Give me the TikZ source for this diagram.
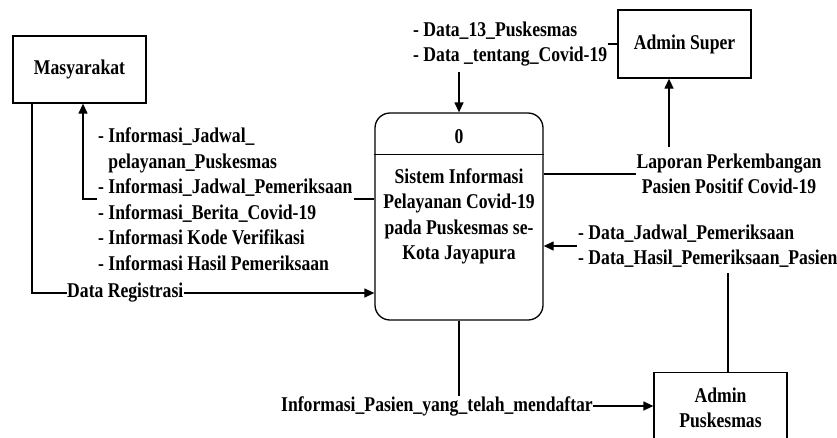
\documentclass[tikz,border=0pt]{standalone}
\usepackage{fontspec}
\setmainfont{Liberation Serif}[FakeStretch=0.84]
\usepackage{tikz}
\usetikzlibrary{arrows.meta}

\begin{document}
\begin{tikzpicture}[x=1pt,y=-1pt,
  every node/.style={font=\fontsize{21}{25.5}\selectfont\bfseries},
  entity/.style={draw,line width=1.3pt,minimum width=133pt,minimum height=67pt,inner sep=0pt,align=center},
  flow/.style={line width=1.3pt},
  arr/.style={line width=1.3pt,-{Triangle[length=10pt,width=9pt]}},
  lbl/.style={align=left,inner xsep=1pt,inner ysep=0pt}]
\clip (0,0) rectangle (837,437);
% external entities
\node [entity] (masy) at (79.5,69.5) {Masyarakat};
\node [entity,minimum height=68pt] (super) at (684.5,44) {Admin Super};
\node [entity,minimum height=70pt,anchor=north] (puskes) at (720.5,372) {Admin\\Puskesmas};
% process 0
\node [draw,line width=1.3pt,rounded corners=15pt,minimum width=168pt,minimum height=207pt] (proc) at (459,216.5) {};
\draw [flow] ([yshift=-42pt]proc.north west) -- ([yshift=-42pt]proc.north east);
\node (proctitle) at (459,137) {0};
\node [align=center,inner sep=0pt] (procbody) at (459,216.5) {Sistem Informasi\\Pelayanan Covid-19\\pada Puskesmas se-\\Kota Jayapura};
% labels
\node [lbl,anchor=west] (lblmasy) at (97,199) {- Informasi\_Jadwal\_\\\hphantom{- }pelayanan\_Puskesmas\\- Informasi\_Jadwal\_Pemeriksaan\\- Informasi\_Berita\_Covid-19\\- Informasi Kode Verifikasi\\- Informasi Hasil Pemeriksaan};
\node [inner sep=0pt,anchor=west] (datareg) at (67,293) {Data Registrasi};
\node [lbl,anchor=west] (lbltop) at (412,44) {- Data\_13\_Puskesmas\\- Data \_tentang\_Covid-19};
\node [align=center,inner sep=0pt] (lap) at (729,174) {Laporan Perkembangan\\Pasien Positif Covid-19};
\node [lbl,anchor=west] (lbladm) at (577,246) {- Data\_Jadwal\_Pemeriksaan\\- Data\_Hasil\_Pemeriksaan\_Pasien};
\node [inner sep=0pt,anchor=east] (lblpas) at (593,406) {Informasi\_Pasien\_yang\_telah\_mendaftar};
\coordinate (topsrc) at (459,72);
\coordinate (lapsrc) at (669,147);
\coordinate (admsrc) at (728,273);
% flows
\draw [arr] (lblmasy.west) -| ([xshift=3.5pt]masy.south);
\draw [flow] (lblmasy.east) -- (lblmasy.east -| proc.west);
\draw [flow] ([xshift=-47.5pt]masy.south) |- (datareg.west);
\draw [arr] (datareg.east) -- (datareg.east -| proc.west);
\draw [flow] (lbltop.east) -- (lbltop.east -| super.west);
\draw [arr] (topsrc) -- (proc.north);
\draw [flow] (lap.west) -- (lap.west -| proc.east);
\draw [arr] (lapsrc) -- (lapsrc |- super.south);
\draw [arr] (lbladm.west) -- (lbladm.west -| proc.east);
\draw [flow] (admsrc) -- (admsrc |- puskes.north);
\draw [flow] (proc.south) -- (proc.south |- lblpas.north);
\draw [arr] (lblpas.east) -- (lblpas.east -| puskes.west);
\end{tikzpicture}
\end{document}
